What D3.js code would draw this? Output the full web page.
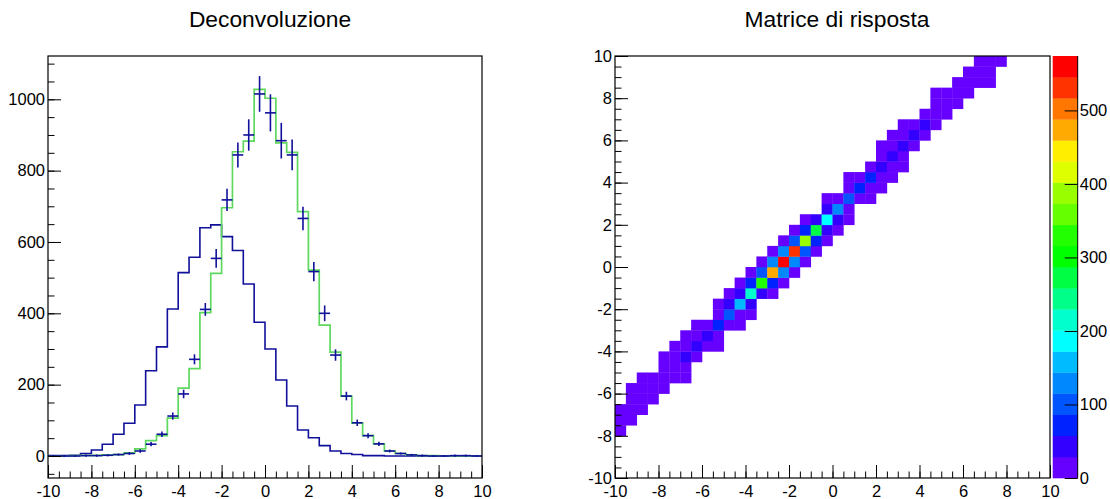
<!DOCTYPE html>
<html>
<head>
<meta charset="utf-8">
<script src="https://cdn.jsdelivr.net/npm/d3@7"></script>
<style>
body { margin: 0; background: #fff; }
svg { display: block; font-family: "Liberation Sans", Arial, Helvetica, sans-serif; }
</style>
</head>
<body>
<div id="chart"></div>
<script>
// --- data ---
var binEdges = [-10,-9.5,-9,-8.5,-8,-7.5,-7,-6.5,-6,-5.5,-5,-4.5,-4,-3.5,-3,-2.5,-2,-1.5,-1,-0.5,
                0,0.5,1,1.5,2,2.5,3,3.5,4,4.5,5,5.5,6,6.5,7,7.5,8,8.5,9,9.5]
var binWidth = 0.5

// smeared (measured) distribution, dark blue line
var measured = [1,1,2,7,17,33,61,92,143,239,306,412,514,557,640,648,615,576,482,375,
                300,213,140,73,51,29,14,7,4,1,1,0,0,0,0,0,0,0,0,0]
// true distribution, green line
var trueDist = [0,0,1,2,2,3,4,9,20,43,57,106,190,245,402,512,696,853,883,1028,
                1003,878,851,685,521,367,291,168,93,57,34,14,7,3,1,1,0,0,0,0]
// deconvolution result, blue error bars
var unfolded = [0,0,0,1,1,2,4,7,14,33,61,112,174,271,411,554,718,844,900,1015,
                962,884,844,666,517,400,283,168,93,57,34,14,7,3,1,0,0,1,1,0]
var unfoldedErr = [3,3,3,3,3,3,3,4,5,6,8,10,12,14,18,26,31,35,44,50,
                   52,50,43,33,27,22,16,12,9,7,6,4,3,3,3,3,3,3,3,3]

var yTicksLeft = [0,200,400,600,800,1000]
var xTicks = [-10,-8,-6,-4,-2,0,2,4,6,8,10]
var zTicks = [0,100,200,300,400,500]
var zMax = 574

// response matrix: [y low edge, x low edge of first filled cell, counts...]
var respRows = [
  [-8,   -10,  [10]],
  [-7.5, -10,  [14, 9]],
  [-7,   -10,  [8, 16, 10]],
  [-6.5, -9.5, [12, 18, 9]],
  [-6,   -9.5, [7, 15, 17, 8]],
  [-5.5, -9,   [9, 14, 20, 15, 7]],
  [-5,   -8,   [16, 22, 12]],
  [-4.5, -8,   [11, 24, 36, 14]],
  [-4,   -7.5, [9, 22, 40, 20, 8]],
  [-3.5, -7,   [13, 25, 44, 17]],
  [-3,   -6.5, [10, 26, 66, 23, 9]],
  [-2.5, -5.5, [18, 98, 27, 11]],
  [-2,   -5.5, [15, 48, 160, 39]],
  [-1.5, -5,   [20, 52, 218, 45, 14]],
  [-1,   -4.5, [22, 72, 332, 68, 18]],
  [-0.5, -4,   [24, 104, 476, 126, 21]],
  [0,    -3.5, [23, 130, 547, 128, 20]],
  [0.5,  -3,   [20, 132, 530, 98, 17]],
  [1,    -2.5, [18, 95, 388, 68, 14]],
  [1.5,  -2,   [16, 70, 272, 50, 11]],
  [2,    -1.5, [13, 46, 188, 40, 9]],
  [2.5,  -0.5, [44, 124, 12]],
  [3,    -0.5, [10, 24, 96, 19, 8]],
  [3.5,  0.5,  [22, 72, 18, 7]],
  [4,    0.5,  [9, 24, 64, 20, 8]],
  [4.5,  1.5,  [21, 42, 19, 7]],
  [5,    2,    [18, 38, 16]],
  [5.5,  2,    [8, 20, 40, 12]],
  [6,    2.5,  [10, 22, 36, 14]],
  [6.5,  3,    [12, 24, 34, 11]],
  [7,    4,    [14, 22, 10]],
  [7.5,  4.5,  [12, 20, 9]],
  [8,    4.5,  [8, 16, 18, 7]],
  [8.5,  5.5,  [10, 17, 15, 6]],
  [9,    6,    [9, 14, 8]],
  [9.5,  6.5,  [7, 11, 6]]
]

var paletteColors = ["#6600ff","#3300ff","#0022ff","#0055ff","#0088ff","#00bbff","#00ffff",
  "#00ffcc","#00ff88","#00ff44","#00ff00","#22ff00","#66ff00","#99ff00","#ddff00","#ffee00",
  "#ffaa00","#ff7700","#ff3300","#ff0000"]

var blue = "#10109a"
var green = "#5fd85f"
var labelSize = 16.5

var svg = d3.select("#chart").append("svg")
    .attr("width", 1110)
    .attr("height", 499)

function addAxis(g, axisFn, scale, ticks, size, transform, labels, pad) {
    var ax = axisFn(scale).tickValues(ticks).tickSizeInner(size).tickSizeOuter(0)
        .tickPadding(pad || 0)
        .tickFormat(labels ? function(d){ return String(d) } : "")
    var sel = g.append("g").attr("transform", transform).call(ax)
    sel.select(".domain").remove()
    sel.selectAll("line").attr("stroke", "#000").attr("stroke-width", 1)
    sel.selectAll("text").attr("font-size", labelSize).attr("fill", "#000")
        .attr("font-family", "Liberation Sans, Arial, sans-serif")
    return sel
}

var minorX = d3.range(-10, 10.01, 0.5)
var minorY2 = d3.range(-10, 10.01, 0.5)

// ---------------- left pad: Deconvoluzione ----------------
var x = d3.scaleLinear().domain([-10, 10]).range([48, 482])
var y = d3.scaleLinear().domain([-61.7, 1121.4]).range([478, 56])

var left = svg.append("g")

left.append("text")
    .attr("x", 270).attr("y", 27)
    .attr("text-anchor", "middle")
    .attr("font-size", 22.8)
    .text("Deconvoluzione")

var step = d3.line()
    .x(function(d){ return x(d[0]) })
    .y(function(d){ return y(d[1]) })
    .curve(d3.curveStepAfter)

function stepPoints(values) {
    var pts = binEdges.map(function(e, i){ return [e, values[i]] })
    pts.push([binEdges[binEdges.length - 1] + binWidth, values[values.length - 1]])
    return pts
}

left.append("path")
    .attr("d", step(stepPoints(measured)))
    .attr("fill", "none").attr("stroke", blue).attr("stroke-width", 1.6)

left.append("path")
    .attr("d", step(stepPoints(trueDist)))
    .attr("fill", "none").attr("stroke", green).attr("stroke-width", 1.7)

var pts = left.append("g").attr("stroke", blue).attr("stroke-width", 1.6)
binEdges.forEach(function(e, i){
    var v = unfolded[i], err = unfoldedErr[i]
    pts.append("line")
        .attr("x1", x(e)).attr("x2", x(e + binWidth))
        .attr("y1", y(v)).attr("y2", y(v))
    pts.append("line")
        .attr("x1", x(e + binWidth / 2)).attr("x2", x(e + binWidth / 2))
        .attr("y1", y(v - err)).attr("y2", y(v + err))
})

left.append("rect")
    .attr("x", 48).attr("y", 56).attr("width", 434).attr("height", 422)
    .attr("fill", "none").attr("stroke", "#000").attr("stroke-width", 1.2)

addAxis(left, d3.axisBottom, x, minorX, -6.5, "translate(0,478)", false)
addAxis(left, d3.axisBottom, x, xTicks, -13, "translate(0,478)", true, 7)
addAxis(left, d3.axisLeft, y, d3.range(-50, 1101, 50), -6.5, "translate(48,0)", false)
addAxis(left, d3.axisLeft, y, yTicksLeft, -13, "translate(48,0)", true, 3)

// ---------------- right pad: Matrice di risposta ----------------
var x2 = d3.scaleLinear().domain([-10, 10]).range([615, 1050])
var y2 = d3.scaleLinear().domain([-10, 10]).range([478, 56])
var z = d3.scaleLinear().domain([0, zMax]).range([478, 56])
var color = d3.scaleQuantize().domain([0, zMax]).range(paletteColors)

var right = svg.append("g")

right.append("text")
    .attr("x", 837).attr("y", 27)
    .attr("text-anchor", "middle")
    .attr("font-size", 22.8)
    .text("Matrice di risposta")

var cells = []
respRows.forEach(function(r){
    r[2].forEach(function(c, k){
        cells.push({x: r[1] + k * binWidth, y: r[0], v: c})
    })
})

right.append("g").selectAll("rect")
    .data(cells)
    .enter().append("rect")
    .attr("x", function(d){ return x2(d.x) })
    .attr("y", function(d){ return y2(d.y + binWidth) })
    .attr("width", function(d){ return x2(d.x + binWidth) - x2(d.x) + 0.3 })
    .attr("height", function(d){ return y2(d.y) - y2(d.y + binWidth) + 0.3 })
    .attr("fill", function(d){ return color(d.v) })

right.append("rect")
    .attr("x", 615).attr("y", 56).attr("width", 435).attr("height", 422)
    .attr("fill", "none").attr("stroke", "#000").attr("stroke-width", 1.2)

addAxis(right, d3.axisBottom, x2, minorX, -6.5, "translate(0,478)", false)
addAxis(right, d3.axisBottom, x2, xTicks, -13, "translate(0,478)", true, 7)
addAxis(right, d3.axisLeft, y2, minorY2, -6.5, "translate(615,0)", false)
addAxis(right, d3.axisLeft, y2, xTicks, -13, "translate(615,0)", true, 3)

// palette
var levelStep = zMax / paletteColors.length
right.append("g").selectAll("rect")
    .data(paletteColors)
    .enter().append("rect")
    .attr("x", 1052.7)
    .attr("width", 25)
    .attr("y", function(d, i){ return z((i + 1) * levelStep) })
    .attr("height", function(d, i){ return z(i * levelStep) - z((i + 1) * levelStep) + 0.3 })
    .attr("fill", function(d){ return d })

right.append("line")
    .attr("x1", 1077.7).attr("x2", 1077.7).attr("y1", 56).attr("y2", 478)
    .attr("stroke", "#000").attr("stroke-width", 1)

addAxis(right, d3.axisRight, z, zTicks, -13, "translate(1077.7,0)", true, 2)
</script>
</body>
</html>
